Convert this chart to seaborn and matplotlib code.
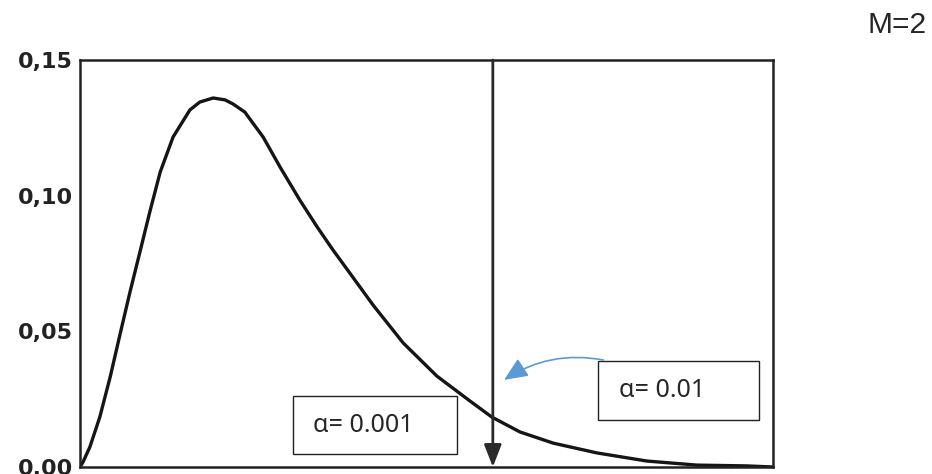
import matplotlib
matplotlib.use("Agg")
import matplotlib.pyplot as plt
import seaborn as sns
from matplotlib.patches import Rectangle

# =====================================
# Data
# =====================================

x_values = [
    0.00, 0.06, 0.20, 0.40, 0.61, 0.81, 1.01, 1.21, 1.41, 1.62,
    1.88, 2.22, 2.42, 2.69, 2.93, 3.09, 3.33, 3.43, 3.70, 4.04,
    4.44, 4.79, 5.11, 5.45, 5.92, 6.53, 7.21, 7.88, 8.32, 8.89,
    9.56, 10.44, 11.45, 12.46, 13.47, 14.00
]

density = [
    0.0000, 0.0018, 0.0074, 0.0184, 0.0332, 0.0490, 0.0645, 0.0792, 0.0940, 0.1087,
    0.1216, 0.1316, 0.1345, 0.1360, 0.1353, 0.1338, 0.1308, 0.1283, 0.1216, 0.1106,
    0.0984, 0.0885, 0.0800, 0.0715, 0.0597, 0.0457, 0.0335, 0.0243, 0.0184, 0.0129,
    0.0088, 0.0052, 0.0022, 0.0007, 0.0004, 0.0000
]

y_ticks = [0.00, 0.05, 0.10, 0.15]
y_tick_labels = ["0,00", "0,05", "0,10", "0,15"]

critical_x = 8.34

alpha_labels = ["α= 0.001", "α= 0.01"]
panel_label = "M=2"

# =====================================
# Figure
# =====================================

sns.set_style("white")

fig = plt.figure(figsize=(9.32, 4.74), dpi=100)
ax = fig.add_axes([80 / 932, 1 - 467 / 474, 693 / 932, 407 / 474])

sns.lineplot(
    x=x_values,
    y=density,
    ax=ax,
    color="#151515",
    linewidth=2.4,
    sort=True
)

ax.set_xlim(0, 14)
ax.set_ylim(0, 0.15)
ax.set_xticks([])
ax.set_yticks(y_ticks)
ax.set_yticklabels(y_tick_labels, fontsize=16, fontweight="bold",
                   family="DejaVu Sans", color="#222222")
ax.tick_params(axis="y", length=3, direction="in", pad=5, color="#222222")

for spine in ax.spines.values():
    spine.set_visible(True)
    spine.set_color("#222222")
    spine.set_linewidth(1.8)

# critical value arrow
ax.annotate(
    "",
    xy=(critical_x, 0.0),
    xytext=(critical_x, 0.15),
    arrowprops=dict(
        arrowstyle="-|>,head_length=0.9,head_width=0.35",
        color="#2a2a2a",
        lw=2,
        mutation_scale=15,
        shrinkA=0,
        shrinkB=0
    )
)

# label boxes
ax.add_patch(Rectangle((0.307, 0.032), 0.237, 0.142, transform=ax.transAxes,
                       facecolor="white", edgecolor="#222222", lw=1, zorder=4))
ax.text(0.336, 0.103, alpha_labels[0], transform=ax.transAxes,
        fontsize=18, family=["Noto Sans", "DejaVu Sans"],
        va="center", ha="left", zorder=5)

ax.add_patch(Rectangle((0.747, 0.115), 0.233, 0.145, transform=ax.transAxes,
                       facecolor="white", edgecolor="#222222", lw=1, zorder=4))
ax.text(0.778, 0.187, alpha_labels[1], transform=ax.transAxes,
        fontsize=18, family=["Noto Sans", "DejaVu Sans"],
        va="center", ha="left", zorder=5)

# blue pointer
ax.annotate(
    "",
    xy=(0.612, 0.214),
    xytext=(0.755, 0.263),
    xycoords="axes fraction",
    textcoords="axes fraction",
    arrowprops=dict(
        arrowstyle="-|>,head_length=0.8,head_width=0.35",
        color="#5B9BD5",
        lw=1.2,
        mutation_scale=18,
        connectionstyle="arc3,rad=0.2",
        shrinkA=0,
        shrinkB=0
    ),
    zorder=6
)

fig.text(868 / 932, 1 - 25 / 474, panel_label, fontsize=21.5,
         family="Liberation Sans", va="center", ha="left")

fig.savefig("out.png", dpi=100)
